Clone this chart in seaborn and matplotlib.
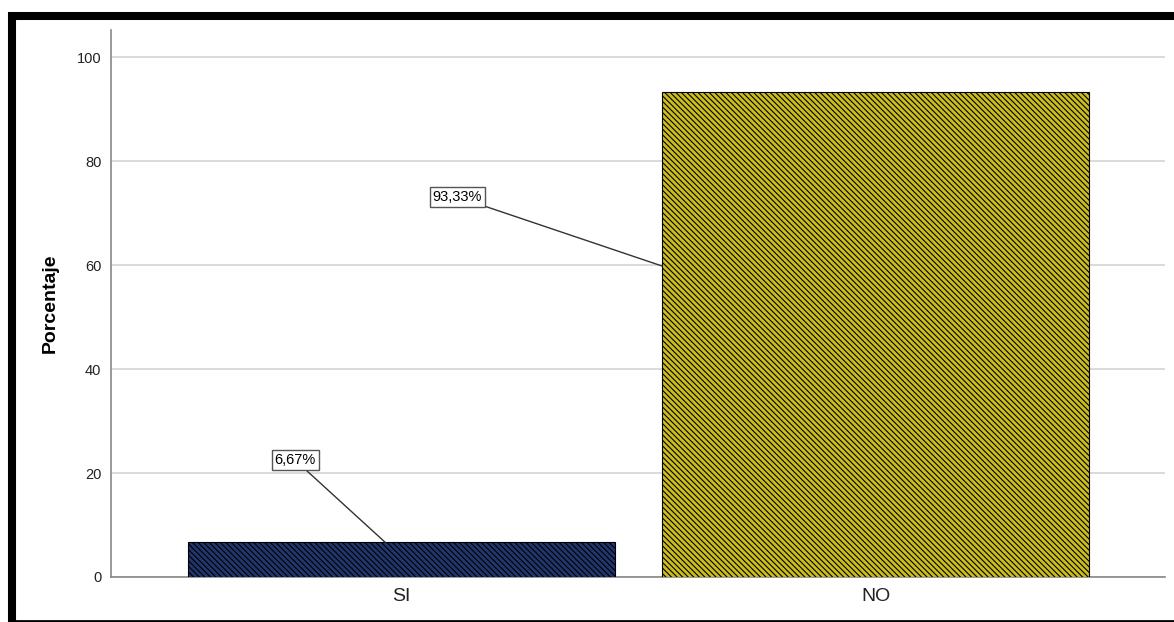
import numpy as np
import pandas as pd
import matplotlib
matplotlib.use("Agg")
import matplotlib.pyplot as plt
from matplotlib.lines import Line2D
import seaborn as sns

# data
categorias = ["SI", "NO"]
porcentajes = [6.67, 93.33]
etiquetas = ["6,67%", "93,33%"]
colores = ["#14307a", "#e8d600"]
yticks = [0, 20, 40, 60, 80, 100]

df = pd.DataFrame({"cat": categorias, "pct": porcentajes})

sns.set_style("white")
plt.rcParams["font.family"] = ["Liberation Sans", "DejaVu Sans"]
plt.rcParams["hatch.linewidth"] = 0.8
plt.rcParams["hatch.color"] = "black"

fig = plt.figure(figsize=(11.74, 6.22), dpi=100)
ax = fig.add_axes([111 / 1174, 1 - 577 / 622, (1165 - 111) / 1174, (577 - 30) / 622])

sns.barplot(data=df, x="cat", y="pct", hue="cat", palette=colores, legend=False,
            width=0.9, edgecolor="black", linewidth=0.8, ax=ax, zorder=3)

for p in ax.patches:
    p.set_hatch("\\" * 6)
    p.set_edgecolor("black")

ax.set_xlim(-0.612, 1.61)
ax.set_ylim(0, 105.2)
ax.set_yticks(yticks)
ax.yaxis.grid(True, color="#d4d4d4", linewidth=1.2, zorder=0)
ax.set_axisbelow(True)

ax.set_xlabel("")
ax.set_ylabel("Porcentaje", fontsize=14, fontweight="bold", labelpad=13, color="black")
ax.tick_params(axis="y", length=0, labelsize=10.5, labelcolor="#222222", pad=7)
ax.tick_params(axis="x", length=0, labelsize=14, labelcolor="#222222", pad=8)

sns.despine(ax=ax, top=True, right=True)
for s in ["left", "bottom"]:
    ax.spines[s].set_color("#888888")
    ax.spines[s].set_linewidth(1.2)

# callout labels: text position and where the leader line touches the bar
texto_xy = [(-0.224, 22.5), (0.118, 73.1)]
punta_xy = [(-0.034, porcentajes[0]), (0.55, 59.8)]
for lab, t, pnt in zip(etiquetas, texto_xy, punta_xy):
    ax.annotate(lab, xy=pnt, xytext=t, ha="center", va="center", fontsize=10.5,
                color="black",
                bbox=dict(boxstyle="square,pad=0.2", fc="white", ec="#555555", lw=1),
                arrowprops=dict(arrowstyle="-", color="#333333", lw=1,
                                shrinkA=0, shrinkB=0),
                zorder=5)

# black frame around the picture
W, H = 1174, 622
fig.add_artist(Line2D([8 / W, 1], [1 - 16 / H, 1 - 16 / H], color="black", lw=5.8,
                      solid_capstyle="butt"))
fig.add_artist(Line2D([12 / W, 12 / W], [0, 1 - 12 / H], color="black", lw=5.8,
                      solid_capstyle="butt"))
fig.add_artist(Line2D([8 / W, 1], [1 / H, 1 / H], color="black", lw=2,
                      solid_capstyle="butt"))

fig.savefig("out.png", dpi=100)
